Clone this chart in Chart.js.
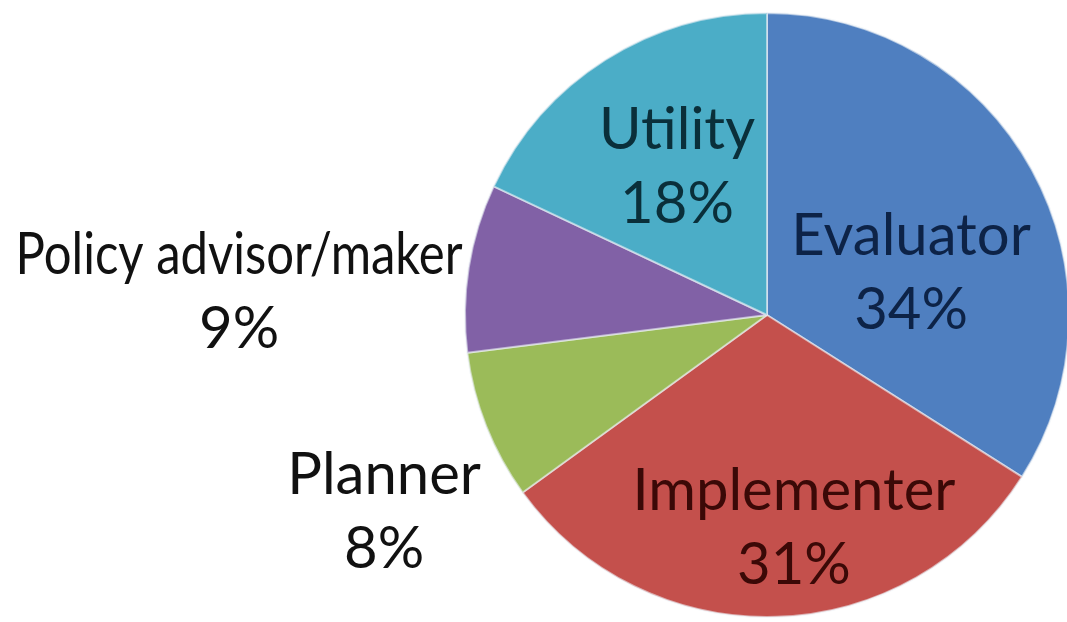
<!DOCTYPE html>
<html>
<head>
<meta charset="utf-8">
<script src="https://cdn.jsdelivr.net/npm/chart.js@4"></script>
<style>
    html, body { margin: 0; padding: 0; background: #fff; overflow: hidden; }
    #wrap { width: 1080px; height: 622px; position: relative; }
</style>
</head>
<body>
<div id="wrap"><canvas id="pita"></canvas></div>
<script>
// podaci s grafa
const kategorije = ['Evaluator', 'Implementer', 'Planner', 'Policy advisor/maker', 'Utility'];
const postoci = [34, 31, 8, 9, 18];
const oznakePostotaka = ['34%', '31%', '8%', '9%', '18%'];

const boje = ['#4f7fc0', '#c4504c', '#9bbb59', '#8161a6', '#4badc7'];
const bojeTeksta = ['#0d2347', '#3b0907', '#111111', '#111111', '#0a2f3a'];
// polozaj oznake u odnosu na srediste, u jedinicama radijusa
const pomakOznaka = [[0.477, -0.146], [0.089, 0.700], [-1.268, 0.647], [-1.748, -0.084], [-0.298, -0.497]];
// najveca sirina natpisa (u radijusima), Calibri je uzi od Lata
const najvecaSirina = [0, 0, 0, 1.48, 0];

const oznakePlugin = {
    id: 'oznake',
    afterDatasetsDraw(chart) {
        const ctx = chart.ctx;
        const luk = chart.getDatasetMeta(0).data[0];
        const r = luk.outerRadius;
        ctx.save();
        ctx.font = '58px Lato, "Open Sans", sans-serif';
        ctx.textAlign = 'center';
        ctx.textBaseline = 'alphabetic';
        kategorije.forEach(function(naziv, i) {
            const cx = luk.x + pomakOznaka[i][0] * r;
            const cy = luk.y + pomakOznaka[i][1] * r;
            const razmak = 0.245 * r;
            const prvi = cy - 16;
            ctx.fillStyle = bojeTeksta[i];
            if (najvecaSirina[i]) {
                ctx.fillText(naziv, cx, prvi, najvecaSirina[i] * r);
            } else {
                ctx.fillText(naziv, cx, prvi);
            }
            ctx.fillText(oznakePostotaka[i], cx, prvi + razmak);
        });
        ctx.restore();
    }
};

const ctx = document.getElementById('pita').getContext('2d');
const graf = new Chart(ctx, {
    type: 'pie',
    data: {
        labels: kategorije,
        datasets: [{
            data: postoci,
            backgroundColor: boje,
            borderColor: 'rgba(235, 240, 245, 0.6)',
            borderWidth: 2
        }]
    },
    options: {
        responsive: true,
        maintainAspectRatio: false,
        animation: false,
        layout: {
            padding: { left: 464, right: 10, top: 12, bottom: 4 }
        },
        plugins: {
            legend: { display: false },
            tooltip: { enabled: false }
        }
    },
    plugins: [oznakePlugin]
});
</script>
</body>
</html>
